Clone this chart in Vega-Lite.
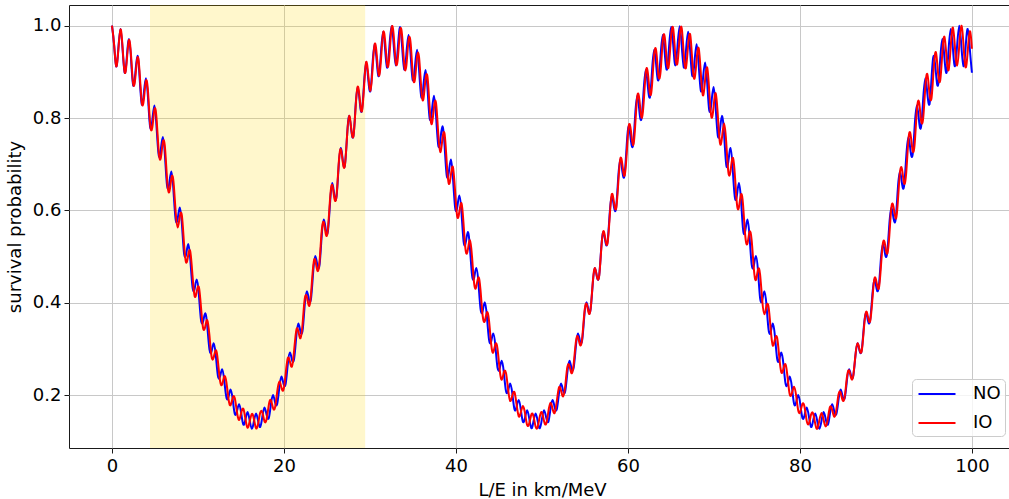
{
  "$schema": "https://vega.github.io/schema/vega-lite/v6.json",
  "width": 946,
  "height": 443,
  "autosize": {"type": "none"},
  "padding": {"left": 69, "top": 5, "right": 0, "bottom": 51},
  "background": "white",
  "config": {
    "font": "DejaVu Sans",
    "view": {"stroke": "#1a1a1a", "strokeWidth": 1},
    "axis": {
      "domain": false,
      "grid": true,
      "gridColor": "#c8c8c8",
      "gridWidth": 1,
      "tickColor": "#1a1a1a",
      "tickSize": 5,
      "tickWidth": 1,
      "labelFont": "DejaVu Sans",
      "labelFontSize": 18,
      "labelColor": "black",
      "labelFlush": false,
      "titleFont": "DejaVu Sans",
      "titleFontSize": 18,
      "titleFontWeight": "normal",
      "titleColor": "black"
    },
    "legend": {
      "orient": "none",
      "legendX": 843,
      "legendY": 374,
      "symbolType": "M-0.85,0H2.85",
      "symbolSize": 400,
      "symbolStrokeWidth": 2,
      "labelFontSize": 18,
      "labelColor": "black",
      "labelOffset": 35,
      "padding": 4,
      "rowPadding": 9,
      "fillColor": "rgba(255,255,255,0.8)",
      "strokeColor": "#cccccc",
      "cornerRadius": 4
    }
  },
  "datasets": {
    "window": [{"start": 4.417, "end": 29.44}],
    "prob": [
      {"x":0,"NO":1,"IO":1},{"x":0.25,"NO":0.957,"IO":0.958},{"x":0.49,"NO":0.912,"IO":0.912},{"x":0.74,"NO":0.951,"IO":0.948},
      {"x":0.99,"NO":0.993,"IO":0.992},{"x":1.23,"NO":0.949,"IO":0.953},{"x":1.48,"NO":0.898,"IO":0.899},{"x":1.72,"NO":0.931,"IO":0.924},
      {"x":1.97,"NO":0.971,"IO":0.969},{"x":2.22,"NO":0.926,"IO":0.934},{"x":2.46,"NO":0.871,"IO":0.874},{"x":2.71,"NO":0.897,"IO":0.887},
      {"x":2.96,"NO":0.935,"IO":0.931},{"x":3.2,"NO":0.891,"IO":0.902},{"x":3.45,"NO":0.831,"IO":0.836},{"x":3.69,"NO":0.851,"IO":0.838},
      {"x":3.94,"NO":0.886,"IO":0.88},{"x":4.19,"NO":0.843,"IO":0.857},{"x":4.43,"NO":0.781,"IO":0.788},{"x":4.68,"NO":0.794,"IO":0.779},
      {"x":4.93,"NO":0.827,"IO":0.818},{"x":5.17,"NO":0.784,"IO":0.801},{"x":5.42,"NO":0.721,"IO":0.731},{"x":5.66,"NO":0.729,"IO":0.712},
      {"x":5.91,"NO":0.759,"IO":0.747},{"x":6.16,"NO":0.718,"IO":0.736},{"x":6.4,"NO":0.654,"IO":0.668},{"x":6.65,"NO":0.657,"IO":0.639},
      {"x":6.9,"NO":0.684,"IO":0.669},{"x":7.14,"NO":0.645,"IO":0.664},{"x":7.39,"NO":0.582,"IO":0.6},{"x":7.64,"NO":0.582,"IO":0.563},
      {"x":7.88,"NO":0.606,"IO":0.587},{"x":8.13,"NO":0.57,"IO":0.588},{"x":8.37,"NO":0.508,"IO":0.529},{"x":8.62,"NO":0.505,"IO":0.487},
      {"x":8.87,"NO":0.527,"IO":0.504},{"x":9.11,"NO":0.493,"IO":0.51},{"x":9.36,"NO":0.434,"IO":0.459},{"x":9.61,"NO":0.43,"IO":0.414},
      {"x":9.85,"NO":0.45,"IO":0.424},{"x":10.1,"NO":0.418,"IO":0.434},{"x":10.34,"NO":0.364,"IO":0.392},{"x":10.59,"NO":0.359,"IO":0.345},
      {"x":10.84,"NO":0.377,"IO":0.348},{"x":11.08,"NO":0.349,"IO":0.362},{"x":11.33,"NO":0.299,"IO":0.329},{"x":11.58,"NO":0.295,"IO":0.283},
      {"x":11.82,"NO":0.312,"IO":0.281},{"x":12.07,"NO":0.286,"IO":0.297},{"x":12.31,"NO":0.242,"IO":0.274},{"x":12.56,"NO":0.24,"IO":0.231},
      {"x":12.81,"NO":0.256,"IO":0.223},{"x":13.05,"NO":0.232,"IO":0.24},{"x":13.3,"NO":0.195,"IO":0.228},{"x":13.55,"NO":0.196,"IO":0.191},
      {"x":13.79,"NO":0.212,"IO":0.178},{"x":14.04,"NO":0.19,"IO":0.194},{"x":14.28,"NO":0.159,"IO":0.193},{"x":14.53,"NO":0.165,"IO":0.163},
      {"x":14.78,"NO":0.18,"IO":0.146},{"x":15.02,"NO":0.161,"IO":0.161},{"x":15.27,"NO":0.136,"IO":0.17},{"x":15.52,"NO":0.147,"IO":0.148},
      {"x":15.76,"NO":0.163,"IO":0.129},{"x":16.01,"NO":0.145,"IO":0.143},{"x":16.26,"NO":0.127,"IO":0.159},{"x":16.5,"NO":0.143,"IO":0.148},
      {"x":16.75,"NO":0.16,"IO":0.128},{"x":16.99,"NO":0.144,"IO":0.138},{"x":17.24,"NO":0.131,"IO":0.162},{"x":17.49,"NO":0.154,"IO":0.162},
      {"x":17.73,"NO":0.173,"IO":0.143},{"x":17.98,"NO":0.157,"IO":0.148},{"x":18.23,"NO":0.15,"IO":0.178},{"x":18.47,"NO":0.179,"IO":0.189},
      {"x":18.72,"NO":0.2,"IO":0.172},{"x":18.96,"NO":0.184,"IO":0.173},{"x":19.21,"NO":0.181,"IO":0.207},{"x":19.46,"NO":0.217,"IO":0.229},
      {"x":19.7,"NO":0.24,"IO":0.216},{"x":19.95,"NO":0.224,"IO":0.212},{"x":20.2,"NO":0.225,"IO":0.247},{"x":20.44,"NO":0.267,"IO":0.28},
      {"x":20.69,"NO":0.292,"IO":0.272},{"x":20.93,"NO":0.276,"IO":0.262},{"x":21.18,"NO":0.279,"IO":0.297},{"x":21.43,"NO":0.327,"IO":0.34},
      {"x":21.67,"NO":0.355,"IO":0.338},{"x":21.92,"NO":0.337,"IO":0.323},{"x":22.17,"NO":0.341,"IO":0.356},{"x":22.41,"NO":0.395,"IO":0.408},
      {"x":22.66,"NO":0.425,"IO":0.412},{"x":22.91,"NO":0.406,"IO":0.393},{"x":23.15,"NO":0.41,"IO":0.421},{"x":23.4,"NO":0.468,"IO":0.48},
      {"x":23.64,"NO":0.501,"IO":0.492},{"x":23.89,"NO":0.48,"IO":0.469},{"x":24.14,"NO":0.483,"IO":0.491},{"x":24.38,"NO":0.544,"IO":0.554},
      {"x":24.63,"NO":0.58,"IO":0.574},{"x":24.88,"NO":0.556,"IO":0.547},{"x":25.12,"NO":0.557,"IO":0.562},{"x":25.37,"NO":0.62,"IO":0.628},
      {"x":25.61,"NO":0.659,"IO":0.655},{"x":25.86,"NO":0.632,"IO":0.626},{"x":26.11,"NO":0.63,"IO":0.632},{"x":26.35,"NO":0.694,"IO":0.698},
      {"x":26.6,"NO":0.735,"IO":0.733},{"x":26.85,"NO":0.706,"IO":0.703},{"x":27.09,"NO":0.699,"IO":0.699},{"x":27.34,"NO":0.763,"IO":0.763},
      {"x":27.58,"NO":0.805,"IO":0.805},{"x":27.83,"NO":0.773,"IO":0.775},{"x":28.08,"NO":0.762,"IO":0.761},{"x":28.32,"NO":0.824,"IO":0.821},
      {"x":28.57,"NO":0.867,"IO":0.868},{"x":28.82,"NO":0.833,"IO":0.839},{"x":29.06,"NO":0.816,"IO":0.815},{"x":29.31,"NO":0.876,"IO":0.868},
      {"x":29.55,"NO":0.92,"IO":0.921},{"x":29.8,"NO":0.883,"IO":0.893},{"x":30.05,"NO":0.859,"IO":0.859},{"x":30.29,"NO":0.916,"IO":0.904},
      {"x":30.54,"NO":0.96,"IO":0.96},{"x":30.79,"NO":0.921,"IO":0.935},{"x":31.03,"NO":0.891,"IO":0.892},{"x":31.28,"NO":0.943,"IO":0.927},
      {"x":31.53,"NO":0.987,"IO":0.985},{"x":31.77,"NO":0.946,"IO":0.964},{"x":32.02,"NO":0.909,"IO":0.913},{"x":32.26,"NO":0.956,"IO":0.936},
      {"x":32.51,"NO":0.999,"IO":0.995},{"x":32.76,"NO":0.957,"IO":0.978},{"x":33,"NO":0.914,"IO":0.92},{"x":33.25,"NO":0.955,"IO":0.932},
      {"x":33.5,"NO":0.997,"IO":0.989},{"x":33.74,"NO":0.953,"IO":0.977},{"x":33.99,"NO":0.905,"IO":0.914},{"x":34.23,"NO":0.939,"IO":0.914},
      {"x":34.48,"NO":0.98,"IO":0.968},{"x":34.73,"NO":0.935,"IO":0.961},{"x":34.97,"NO":0.882,"IO":0.895},{"x":35.22,"NO":0.91,"IO":0.883},
      {"x":35.47,"NO":0.948,"IO":0.932},{"x":35.71,"NO":0.904,"IO":0.931},{"x":35.96,"NO":0.846,"IO":0.864},{"x":36.2,"NO":0.868,"IO":0.84},
      {"x":36.45,"NO":0.904,"IO":0.883},{"x":36.7,"NO":0.86,"IO":0.887},{"x":36.94,"NO":0.799,"IO":0.821},{"x":37.19,"NO":0.814,"IO":0.787},
      {"x":37.44,"NO":0.848,"IO":0.823},{"x":37.68,"NO":0.805,"IO":0.832},{"x":37.93,"NO":0.742,"IO":0.768},{"x":38.17,"NO":0.751,"IO":0.726},
      {"x":38.42,"NO":0.782,"IO":0.754},{"x":38.67,"NO":0.741,"IO":0.766},{"x":38.91,"NO":0.677,"IO":0.707},{"x":39.16,"NO":0.682,"IO":0.658},
      {"x":39.41,"NO":0.71,"IO":0.677},{"x":39.65,"NO":0.67,"IO":0.693},{"x":39.9,"NO":0.606,"IO":0.64},{"x":40.15,"NO":0.607,"IO":0.586},
      {"x":40.39,"NO":0.632,"IO":0.597},{"x":40.64,"NO":0.595,"IO":0.615},{"x":40.88,"NO":0.533,"IO":0.57},{"x":41.13,"NO":0.53,"IO":0.512},
      {"x":41.38,"NO":0.553,"IO":0.515},{"x":41.62,"NO":0.519,"IO":0.535},{"x":41.87,"NO":0.459,"IO":0.498},{"x":42.12,"NO":0.455,"IO":0.44},
      {"x":42.36,"NO":0.475,"IO":0.435},{"x":42.61,"NO":0.443,"IO":0.455},{"x":42.85,"NO":0.387,"IO":0.427},{"x":43.1,"NO":0.382,"IO":0.372},
      {"x":43.35,"NO":0.401,"IO":0.36},{"x":43.59,"NO":0.371,"IO":0.379},{"x":43.84,"NO":0.32,"IO":0.361},{"x":44.09,"NO":0.316,"IO":0.31},
      {"x":44.33,"NO":0.333,"IO":0.292},{"x":44.58,"NO":0.306,"IO":0.31},{"x":44.82,"NO":0.26,"IO":0.301},{"x":45.07,"NO":0.257,"IO":0.256},
      {"x":45.32,"NO":0.274,"IO":0.233},{"x":45.56,"NO":0.249,"IO":0.249},{"x":45.81,"NO":0.209,"IO":0.248},{"x":46.06,"NO":0.209,"IO":0.212},
      {"x":46.3,"NO":0.225,"IO":0.187},{"x":46.55,"NO":0.203,"IO":0.199},{"x":46.8,"NO":0.169,"IO":0.206},{"x":47.04,"NO":0.174,"IO":0.18},
      {"x":47.29,"NO":0.189,"IO":0.154},{"x":47.53,"NO":0.169,"IO":0.162},{"x":47.78,"NO":0.142,"IO":0.176},{"x":48.03,"NO":0.151,"IO":0.16},
      {"x":48.27,"NO":0.167,"IO":0.135},{"x":48.52,"NO":0.149,"IO":0.139},{"x":48.77,"NO":0.128,"IO":0.158},{"x":49.01,"NO":0.143,"IO":0.154},
      {"x":49.26,"NO":0.16,"IO":0.131},{"x":49.5,"NO":0.143,"IO":0.131},{"x":49.75,"NO":0.128,"IO":0.154},{"x":50,"NO":0.149,"IO":0.162},
      {"x":50.24,"NO":0.167,"IO":0.143},{"x":50.49,"NO":0.151,"IO":0.138},{"x":50.74,"NO":0.142,"IO":0.164},{"x":50.98,"NO":0.169,"IO":0.183},
      {"x":51.23,"NO":0.189,"IO":0.17},{"x":51.47,"NO":0.174,"IO":0.161},{"x":51.72,"NO":0.169,"IO":0.186},{"x":51.97,"NO":0.203,"IO":0.216},
      {"x":52.21,"NO":0.225,"IO":0.21},{"x":52.46,"NO":0.209,"IO":0.197},{"x":52.71,"NO":0.209,"IO":0.221},{"x":52.95,"NO":0.249,"IO":0.261},
      {"x":53.2,"NO":0.274,"IO":0.263},{"x":53.44,"NO":0.257,"IO":0.247},{"x":53.69,"NO":0.26,"IO":0.268},{"x":53.94,"NO":0.306,"IO":0.315},
      {"x":54.18,"NO":0.333,"IO":0.326},{"x":54.43,"NO":0.316,"IO":0.308},{"x":54.68,"NO":0.32,"IO":0.324},{"x":54.92,"NO":0.371,"IO":0.377},
      {"x":55.17,"NO":0.401,"IO":0.398},{"x":55.42,"NO":0.382,"IO":0.378},{"x":55.66,"NO":0.387,"IO":0.388},{"x":55.91,"NO":0.443,"IO":0.445},
      {"x":56.15,"NO":0.475,"IO":0.475},{"x":56.4,"NO":0.455,"IO":0.455},{"x":56.65,"NO":0.459,"IO":0.458},{"x":56.89,"NO":0.519,"IO":0.516},
      {"x":57.14,"NO":0.553,"IO":0.555},{"x":57.39,"NO":0.53,"IO":0.535},{"x":57.63,"NO":0.533,"IO":0.53},{"x":57.88,"NO":0.595,"IO":0.588},
      {"x":58.12,"NO":0.632,"IO":0.635},{"x":58.37,"NO":0.607,"IO":0.617},{"x":58.62,"NO":0.606,"IO":0.604},{"x":58.86,"NO":0.67,"IO":0.657},
      {"x":59.11,"NO":0.71,"IO":0.712},{"x":59.36,"NO":0.682,"IO":0.697},{"x":59.6,"NO":0.677,"IO":0.675},{"x":59.85,"NO":0.741,"IO":0.723},
      {"x":60.09,"NO":0.782,"IO":0.783},{"x":60.34,"NO":0.751,"IO":0.772},{"x":60.59,"NO":0.742,"IO":0.741},{"x":60.83,"NO":0.805,"IO":0.782},
      {"x":61.08,"NO":0.848,"IO":0.847},{"x":61.33,"NO":0.814,"IO":0.839},{"x":61.57,"NO":0.799,"IO":0.801},{"x":61.82,"NO":0.86,"IO":0.833},
      {"x":62.07,"NO":0.904,"IO":0.899},{"x":62.31,"NO":0.868,"IO":0.897},{"x":62.56,"NO":0.846,"IO":0.852},{"x":62.8,"NO":0.904,"IO":0.873},
      {"x":63.05,"NO":0.948,"IO":0.94},{"x":63.3,"NO":0.91,"IO":0.942},{"x":63.54,"NO":0.882,"IO":0.892},{"x":63.79,"NO":0.935,"IO":0.901},
      {"x":64.04,"NO":0.98,"IO":0.967},{"x":64.28,"NO":0.939,"IO":0.974},{"x":64.53,"NO":0.905,"IO":0.92},{"x":64.77,"NO":0.953,"IO":0.917},
      {"x":65.02,"NO":0.997,"IO":0.979},{"x":65.27,"NO":0.955,"IO":0.992},{"x":65.51,"NO":0.914,"IO":0.935},{"x":65.76,"NO":0.957,"IO":0.92},
      {"x":66.01,"NO":0.999,"IO":0.976},{"x":66.25,"NO":0.956,"IO":0.994},{"x":66.5,"NO":0.909,"IO":0.935},{"x":66.74,"NO":0.946,"IO":0.909},
      {"x":66.99,"NO":0.987,"IO":0.958},{"x":67.24,"NO":0.943,"IO":0.98},{"x":67.48,"NO":0.891,"IO":0.922},{"x":67.73,"NO":0.921,"IO":0.885},
      {"x":67.98,"NO":0.96,"IO":0.926},{"x":68.22,"NO":0.916,"IO":0.951},{"x":68.47,"NO":0.859,"IO":0.896},{"x":68.71,"NO":0.883,"IO":0.849},
      {"x":68.96,"NO":0.92,"IO":0.881},{"x":69.21,"NO":0.876,"IO":0.909},{"x":69.45,"NO":0.816,"IO":0.857},{"x":69.7,"NO":0.833,"IO":0.802},
      {"x":69.95,"NO":0.867,"IO":0.824},{"x":70.19,"NO":0.824,"IO":0.854},{"x":70.44,"NO":0.762,"IO":0.807},{"x":70.69,"NO":0.773,"IO":0.746},
      {"x":70.93,"NO":0.805,"IO":0.758},{"x":71.18,"NO":0.763,"IO":0.788},{"x":71.42,"NO":0.699,"IO":0.748},{"x":71.67,"NO":0.706,"IO":0.683},
      {"x":71.92,"NO":0.735,"IO":0.685},{"x":72.16,"NO":0.694,"IO":0.714},{"x":72.41,"NO":0.63,"IO":0.681},{"x":72.66,"NO":0.632,"IO":0.615},
      {"x":72.9,"NO":0.659,"IO":0.607},{"x":73.15,"NO":0.62,"IO":0.635},{"x":73.39,"NO":0.557,"IO":0.609},{"x":73.64,"NO":0.556,"IO":0.544},
      {"x":73.89,"NO":0.58,"IO":0.528},{"x":74.13,"NO":0.544,"IO":0.553},{"x":74.38,"NO":0.483,"IO":0.535},{"x":74.63,"NO":0.48,"IO":0.474},
      {"x":74.87,"NO":0.501,"IO":0.449},{"x":75.12,"NO":0.468,"IO":0.472},{"x":75.36,"NO":0.41,"IO":0.461},{"x":75.61,"NO":0.406,"IO":0.405},
      {"x":75.86,"NO":0.425,"IO":0.375},{"x":76.1,"NO":0.395,"IO":0.393},{"x":76.35,"NO":0.341,"IO":0.39},{"x":76.6,"NO":0.337,"IO":0.341},
      {"x":76.84,"NO":0.355,"IO":0.307},{"x":77.09,"NO":0.327,"IO":0.321},{"x":77.34,"NO":0.279,"IO":0.324},{"x":77.58,"NO":0.276,"IO":0.284},
      {"x":77.83,"NO":0.292,"IO":0.249},{"x":78.07,"NO":0.267,"IO":0.257},{"x":78.32,"NO":0.225,"IO":0.266},{"x":78.57,"NO":0.224,"IO":0.236},
      {"x":78.81,"NO":0.24,"IO":0.201},{"x":79.06,"NO":0.217,"IO":0.204},{"x":79.31,"NO":0.181,"IO":0.218},{"x":79.55,"NO":0.184,"IO":0.199},
      {"x":79.8,"NO":0.2,"IO":0.166},{"x":80.04,"NO":0.179,"IO":0.164},{"x":80.29,"NO":0.15,"IO":0.181},{"x":80.54,"NO":0.157,"IO":0.173},
      {"x":80.78,"NO":0.173,"IO":0.144},{"x":81.03,"NO":0.154,"IO":0.138},{"x":81.28,"NO":0.131,"IO":0.157},{"x":81.52,"NO":0.144,"IO":0.16},
      {"x":81.77,"NO":0.16,"IO":0.138},{"x":82.01,"NO":0.143,"IO":0.127},{"x":82.26,"NO":0.127,"IO":0.146},{"x":82.51,"NO":0.145,"IO":0.161},
      {"x":82.75,"NO":0.163,"IO":0.146},{"x":83,"NO":0.147,"IO":0.132},{"x":83.25,"NO":0.136,"IO":0.15},{"x":83.49,"NO":0.161,"IO":0.174},
      {"x":83.74,"NO":0.18,"IO":0.168},{"x":83.98,"NO":0.165,"IO":0.153},{"x":84.23,"NO":0.159,"IO":0.168},{"x":84.48,"NO":0.19,"IO":0.201},
      {"x":84.72,"NO":0.212,"IO":0.205},{"x":84.97,"NO":0.196,"IO":0.188},{"x":85.22,"NO":0.195,"IO":0.199},{"x":85.46,"NO":0.232,"IO":0.239},
      {"x":85.71,"NO":0.256,"IO":0.253},{"x":85.96,"NO":0.24,"IO":0.236},{"x":86.2,"NO":0.242,"IO":0.243},{"x":86.45,"NO":0.286,"IO":0.287},
      {"x":86.69,"NO":0.312,"IO":0.312},{"x":86.94,"NO":0.295,"IO":0.297},{"x":87.19,"NO":0.299,"IO":0.297},{"x":87.43,"NO":0.349,"IO":0.344},
      {"x":87.68,"NO":0.377,"IO":0.38},{"x":87.93,"NO":0.359,"IO":0.367},{"x":88.17,"NO":0.364,"IO":0.361},{"x":88.42,"NO":0.418,"IO":0.408},
      {"x":88.66,"NO":0.45,"IO":0.453},{"x":88.91,"NO":0.43,"IO":0.443},{"x":89.16,"NO":0.434,"IO":0.431},{"x":89.4,"NO":0.493,"IO":0.476},
      {"x":89.65,"NO":0.527,"IO":0.53},{"x":89.9,"NO":0.505,"IO":0.525},{"x":90.14,"NO":0.508,"IO":0.506},{"x":90.39,"NO":0.57,"IO":0.547},
      {"x":90.63,"NO":0.606,"IO":0.607},{"x":90.88,"NO":0.582,"IO":0.607},{"x":91.13,"NO":0.582,"IO":0.582},{"x":91.37,"NO":0.645,"IO":0.617},
      {"x":91.62,"NO":0.684,"IO":0.682},{"x":91.87,"NO":0.657,"IO":0.688},{"x":92.11,"NO":0.654,"IO":0.658},{"x":92.36,"NO":0.718,"IO":0.684},
      {"x":92.61,"NO":0.759,"IO":0.753},{"x":92.85,"NO":0.729,"IO":0.765},{"x":93.1,"NO":0.721,"IO":0.729},{"x":93.34,"NO":0.784,"IO":0.746},
      {"x":93.59,"NO":0.827,"IO":0.816},{"x":93.84,"NO":0.794,"IO":0.835},{"x":94.08,"NO":0.781,"IO":0.795},{"x":94.33,"NO":0.843,"IO":0.801},
      {"x":94.58,"NO":0.886,"IO":0.869},{"x":94.82,"NO":0.851,"IO":0.894},{"x":95.07,"NO":0.831,"IO":0.851},{"x":95.31,"NO":0.891,"IO":0.846},
      {"x":95.56,"NO":0.935,"IO":0.911},{"x":95.81,"NO":0.897,"IO":0.942},{"x":96.05,"NO":0.871,"IO":0.898},{"x":96.3,"NO":0.926,"IO":0.881},
      {"x":96.55,"NO":0.971,"IO":0.941},{"x":96.79,"NO":0.931,"IO":0.976},{"x":97.04,"NO":0.898,"IO":0.932},{"x":97.28,"NO":0.949,"IO":0.904},
      {"x":97.53,"NO":0.993,"IO":0.956},{"x":97.78,"NO":0.951,"IO":0.996},{"x":98.02,"NO":0.912,"IO":0.952},{"x":98.27,"NO":0.957,"IO":0.914},
      {"x":98.52,"NO":1,"IO":0.957},{"x":98.76,"NO":0.957,"IO":1},{"x":99.01,"NO":0.912,"IO":0.959},{"x":99.25,"NO":0.951,"IO":0.91},
      {"x":99.5,"NO":0.993,"IO":0.944},{"x":99.75,"NO":0.949,"IO":0.988},{"x":99.99,"NO":0.898,"IO":0.95}
    ]
  },
  "layer": [
    {
      "data": {"name": "window"},
      "mark": {"type": "rect", "color": "gold", "opacity": 0.2},
      "encoding": {
        "x": {
          "field": "start", "type": "quantitative",
          "scale": {"domain": [-5, 105], "nice": false, "zero": false},
          "axis": {"values": [0, 20, 40, 60, 80, 100], "format": "d", "labelPadding": 4, "titlePadding": 6},
          "title": "L/E in km/MeV"
        },
        "x2": {"field": "end"}
      }
    },
    {
      "data": {"name": "prob"},
      "transform": [
        {"fold": ["NO", "IO"], "as": ["ordering", "P"]},
        {"filter": {"field": "ordering", "equal": "NO"}}
      ],
      "mark": {"type": "line", "interpolate": "natural", "strokeWidth": 2},
      "encoding": {
        "x": {
          "field": "x", "type": "quantitative",
          "scale": {"domain": [-5, 105], "nice": false, "zero": false},
          "axis": {"values": [0, 20, 40, 60, 80, 100], "format": "d", "labelPadding": 4, "titlePadding": 6},
          "title": "L/E in km/MeV"
        },
        "y": {
          "field": "P", "type": "quantitative",
          "scale": {"domain": [0.0852, 1.0448], "nice": false, "zero": false},
          "axis": {"values": [0.2, 0.4, 0.6, 0.8, 1.0], "format": ".1f", "labelPadding": 3, "titlePadding": 8},
          "title": "survival probability"
        },
        "color": {
          "field": "ordering", "type": "nominal",
          "scale": {"domain": ["NO", "IO"], "range": ["blue", "red"]},
          "legend": {"title": null}
        }
      }
    },
    {
      "data": {"name": "prob"},
      "transform": [
        {"fold": ["NO", "IO"], "as": ["ordering", "P"]},
        {"filter": {"field": "ordering", "equal": "IO"}}
      ],
      "mark": {"type": "line", "interpolate": "natural", "strokeWidth": 2},
      "encoding": {
        "x": {
          "field": "x", "type": "quantitative",
          "scale": {"domain": [-5, 105], "nice": false, "zero": false},
          "axis": {"values": [0, 20, 40, 60, 80, 100], "format": "d", "labelPadding": 4, "titlePadding": 6},
          "title": "L/E in km/MeV"
        },
        "y": {
          "field": "P", "type": "quantitative",
          "scale": {"domain": [0.0852, 1.0448], "nice": false, "zero": false},
          "axis": {"values": [0.2, 0.4, 0.6, 0.8, 1.0], "format": ".1f", "labelPadding": 3, "titlePadding": 8},
          "title": "survival probability"
        },
        "color": {
          "field": "ordering", "type": "nominal",
          "scale": {"domain": ["NO", "IO"], "range": ["blue", "red"]},
          "legend": {"title": null}
        }
      }
    }
  ]
}
